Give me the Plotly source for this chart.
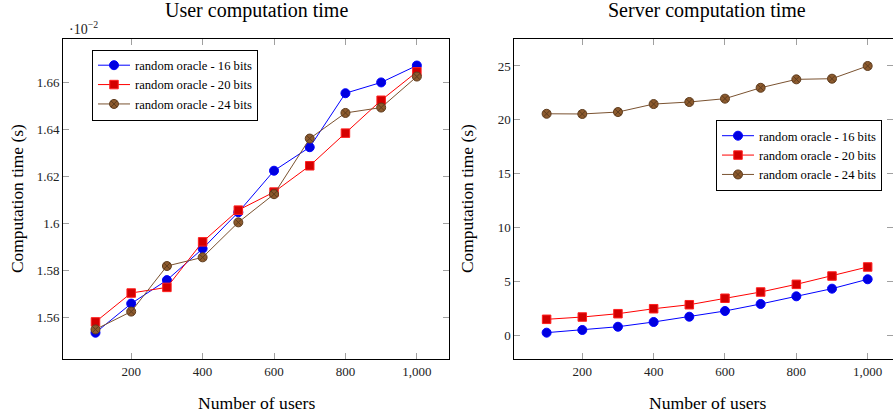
import plotly.graph_objects as go

users = [100, 200, 300, 400, 500, 600, 700, 800, 900, 1000]

# User computation time (x 10^-2 s)
user_16 = [1.5536, 1.566, 1.576, 1.5894, 1.6049, 1.6226, 1.6326, 1.6556, 1.6602, 1.6674]
user_20 = [1.5582, 1.5705, 1.5729, 1.5923, 1.6058, 1.6135, 1.6247, 1.6386, 1.6526, 1.6647]
user_24 = [1.555, 1.5626, 1.582, 1.5857, 1.6006, 1.6126, 1.6363, 1.6472, 1.6495, 1.6627]

# Server computation time (s)
server_16 = [0.28, 0.53, 0.83, 1.27, 1.76, 2.29, 2.94, 3.65, 4.36, 5.23]
server_20 = [1.52, 1.73, 2.04, 2.50, 2.87, 3.47, 4.05, 4.76, 5.53, 6.37]
server_24 = [20.57, 20.55, 20.73, 21.47, 21.66, 21.97, 22.98, 23.76, 23.82, 25.0]

names = ["random oracle - 16 bits", "random oracle - 20 bits", "random oracle - 24 bits"]
user_ticks = [1.56, 1.58, 1.60, 1.62, 1.64, 1.66]
user_ticktext = ["1.56", "1.58", "1.6", "1.62", "1.64", "1.66"]
server_ticks = [0, 5, 10, 15, 20, 25]
x_ticks = [200, 400, 600, 800, 1000]
x_ticktext = ["200", "400", "600", "800", "1,000"]

FONT = "Liberation Serif"

styles = [
    dict(line=dict(color="#0000ff", width=1),
         marker=dict(symbol="circle", size=9, color="#0000e0", line=dict(color="#0000ff", width=1))),
    dict(line=dict(color="#ff0000", width=1),
         marker=dict(symbol="square", size=8.5, color="#d40000", line=dict(color="#ff2020", width=1))),
    dict(line=dict(color="#7a5230", width=1),
         marker=dict(symbol="circle-x", size=9, color="#8c5a2d", line=dict(color="#5e3c1e", width=1))),
]

fig = go.Figure()
for data, st, nm in zip([user_16, user_20, user_24], styles, names):
    fig.add_trace(go.Scatter(x=users, y=data, mode="lines+markers", name=nm,
                             xaxis="x", yaxis="y", legend="legend", **st))
for data, st, nm in zip([server_16, server_20, server_24], styles, names):
    fig.add_trace(go.Scatter(x=users, y=data, mode="lines+markers", name=nm,
                             xaxis="x2", yaxis="y2", legend="legend2", **st))

W, H = 893, 417
ydom = [(H - 359) / H, (H - 39) / H]

axis_common = dict(showline=True, linecolor="black", linewidth=1, mirror="allticks",
                   ticks="inside", ticklen=6, tickcolor="#a0a0a0", tickwidth=1,
                   showgrid=False, zeroline=False,
                   tickfont=dict(family=FONT, size=13, color="#222"))

legend_common = dict(xanchor="left", yanchor="top",
                     bordercolor="black", borderwidth=1, bgcolor="white",
                     font=dict(family=FONT, size=12.6, color="black"), tracegroupgap=0,
                     itemwidth=32)

fig.update_layout(
    width=W, height=H,
    margin=dict(l=0, r=0, t=0, b=0),
    plot_bgcolor="white", paper_bgcolor="white",
    font=dict(family=FONT, color="black"),
    xaxis=dict(domain=[63 / W, 449 / W], range=[9, 1090], tickvals=x_ticks, ticktext=x_ticktext,
               anchor="y", **axis_common),
    yaxis=dict(domain=ydom, range=[1.5424, 1.6787], tickvals=user_ticks, ticktext=user_ticktext,
               anchor="x", **axis_common),
    xaxis2=dict(domain=[514.3 / W, 1.0], range=[9.4, 1071], tickvals=x_ticks, ticktext=x_ticktext,
                anchor="y2", **axis_common),
    yaxis2=dict(domain=ydom, range=[-2.16, 27.5], tickvals=server_ticks,
                anchor="x2", **axis_common),
    legend=dict(x=92 / W, y=(H - 49.5) / H, **legend_common),
    legend2=dict(x=716 / W, y=(H - 120) / H, **legend_common),
    showlegend=True,
)

annotations = [
    dict(text="User computation time", x=256 / W, y=(H - 11) / H, size=20),
    dict(text="Server computation time", x=707 / W, y=(H - 11) / H, size=20),
    dict(text="Number of users", x=256 / W, y=(H - 403) / H, size=17.6),
    dict(text="Number of users", x=707 / W, y=(H - 403) / H, size=17.6),
]
for a in annotations:
    fig.add_annotation(text=a["text"], xref="paper", yref="paper", x=a["x"], y=a["y"],
                       xanchor="center", yanchor="middle", showarrow=False,
                       font=dict(family=FONT, size=a["size"], color="black"))
for xc in [17, 467]:
    fig.add_annotation(text="Computation time (s)", xref="paper", yref="paper",
                       x=xc / W, y=(H - 199) / H, xanchor="center", yanchor="middle",
                       textangle=-90, showarrow=False,
                       font=dict(family=FONT, size=17.4, color="black"))
fig.add_annotation(text="·10<sup>−2</sup>", xref="paper", yref="paper",
                   x=67 / W, y=(H - 28) / H, xanchor="left", yanchor="middle",
                   showarrow=False, font=dict(family=FONT, size=14, color="#222"))

fig.write_html("out.html")
